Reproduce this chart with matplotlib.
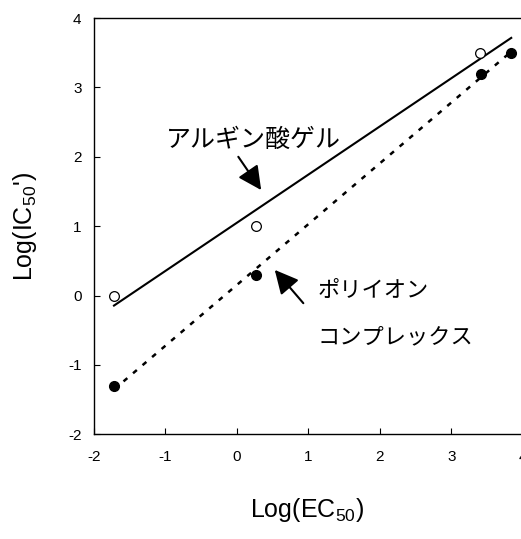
import numpy as np
import matplotlib
matplotlib.use('Agg')
import matplotlib.pyplot as plt

plt.rcParams['font.family'] = ['Liberation Sans', 'Noto Sans CJK JP', 'DejaVu Sans']
plt.rcParams['axes.unicode_minus'] = False
plt.rcParams['mathtext.default'] = 'regular'

# alginate gel (open circles)
gel_x = [-1.72, 0.27, 3.40]
gel_y = [0.0, 1.0, 3.5]
# polyion complex (filled circles)
pic_x = [-1.72, 0.27, 3.42, 3.84]
pic_y = [-1.3, 0.3, 3.2, 3.5]

xticks = [-2, -1, 0, 1, 2, 3, 4]
yticks = [-2, -1, 0, 1, 2, 3, 4]

fig = plt.figure(figsize=(5.21, 5.39), dpi=100)
ax = fig.add_axes([0.1804, 0.1942, 0.8228, 0.7724])

# regression lines
xs = np.array([min(gel_x), max(pic_x)])
k, b = np.polyfit(gel_x, gel_y, 1)
ax.plot(xs, k * xs + b, color='k', lw=1.5, zorder=2)
k2, b2 = np.polyfit(pic_x, pic_y, 1)
xs2 = np.array([min(pic_x), max(pic_x)])
ax.plot(xs2, k2 * xs2 + b2, color='k', lw=1.8, linestyle=(0, (2, 3)), zorder=2)

ax.plot(gel_x, gel_y, 'o', ms=7, mfc='white', mec='k', mew=0.9, zorder=3)
ax.plot(pic_x, pic_y, 'o', ms=7, mfc='k', mec='k', zorder=3)

ax.set_xlim(-2, 4)
ax.set_ylim(-2, 4)
ax.set_xticks(xticks)
ax.set_yticks(yticks)
ax.tick_params(direction='in', length=4, width=0.8, labelsize=11)
ax.tick_params(axis='x', pad=11)
ax.tick_params(axis='y', pad=9)
for s in ax.spines.values():
    s.set_linewidth(1.0)

ax.set_xlabel('Log(EC$_{50}$)', fontsize=18, va='center')
ax.xaxis.set_label_coords(0.497, -0.182)
ax.set_ylabel("Log(IC$_{50}$')", fontsize=18, va='center')
ax.yaxis.set_label_coords(-0.161, 0.5)

jp = ['Noto Sans CJK JP']
arrow = dict(arrowstyle='-|>,head_length=0.8,head_width=0.4', color='k',
             lw=1.5, mutation_scale=18, shrinkA=0, shrinkB=0)
ax.text(-0.99, 2.24, 'アルギン酸ゲル', family=jp, fontsize=18, va='center', ha='left')
ax.annotate('', xy=(0.34, 1.52), xytext=(0.02, 2.0), arrowprops=arrow)
ax.text(1.13, 0.08, 'ポリイオン', family=jp, fontsize=16, va='center', ha='left')
ax.text(1.13, -0.6, 'コンプレックス', family=jp, fontsize=16, va='center', ha='left')
ax.annotate('', xy=(0.53, 0.37), xytext=(0.93, -0.11), arrowprops=arrow)

fig.savefig('out.png', dpi=100)
